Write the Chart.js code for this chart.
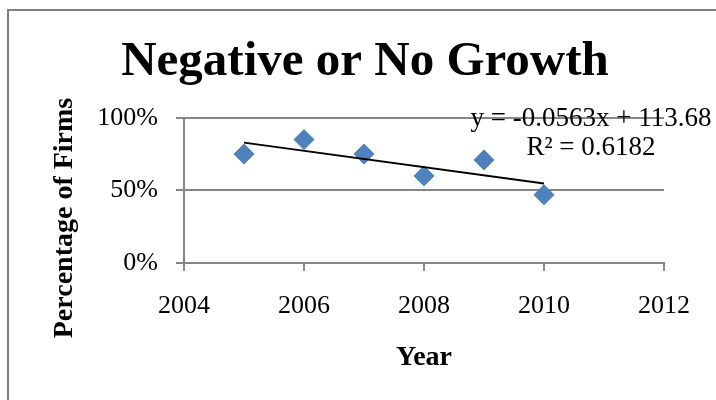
<!DOCTYPE html>
<html>
<head>
<meta charset="utf-8">
<script src="https://cdn.jsdelivr.net/npm/chart.js@4/dist/chart.umd.min.js"></script>
<style>
  html, body { margin: 0; padding: 0; background: #fff; }
  #wrap { width: 716px; height: 400px; }
</style>
</head>
<body>
<div id="wrap"><canvas id="c" width="716" height="400"></canvas></div>
<script>
// Share of firms reporting negative or no growth, by year
const years = [2005, 2006, 2007, 2008, 2009, 2010];
const shareOfFirms = [0.75, 0.85, 0.75, 0.60, 0.71, 0.47];
const xTickValues = [2004, 2006, 2008, 2010, 2012];
const yTickValues = [0, 0.5, 1];

const SERIF = '"Liberation Serif", "DejaVu Serif", serif';
const AXIS_GREY = '#868686';

// Ordinary least-squares line through the points
function linearFit(xs, ys) {
  const n = xs.length;
  const mx = xs.reduce((a, b) => a + b, 0) / n;
  const my = ys.reduce((a, b) => a + b, 0) / n;
  let sxy = 0, sxx = 0, syy = 0;
  for (let i = 0; i < n; i++) {
    sxy += (xs[i] - mx) * (ys[i] - my);
    sxx += (xs[i] - mx) ** 2;
    syy += (ys[i] - my) ** 2;
  }
  const slope = sxy / sxx;
  const intercept = my - slope * mx;
  const r2 = (sxy * sxy) / (sxx * syy);
  return { slope, intercept, r2 };
}

const fit = linearFit(years, shareOfFirms);
const xFirst = years[0], xLast = years[years.length - 1];
const trendPoints = [
  { x: xFirst, y: fit.intercept + fit.slope * xFirst },
  { x: xLast,  y: fit.intercept + fit.slope * xLast }
];
const sign = fit.intercept >= 0 ? '+' : '-';
const equationText = `y = ${fit.slope.toFixed(4)}x ${sign} ${Math.abs(fit.intercept).toFixed(2)}`;
const r2Text = `R\u00B2 = ${fit.r2.toFixed(4)}`;

// Outer frame of the chart object
const framePlugin = {
  id: 'frame',
  beforeDraw(chart) {
    const ctx = chart.ctx;
    ctx.save();
    ctx.fillStyle = '#fff';
    ctx.fillRect(0, 0, chart.width, chart.height);
    ctx.strokeStyle = '#808080';
    ctx.lineWidth = 2;
    ctx.beginPath();
    ctx.moveTo(8, chart.height);
    ctx.lineTo(8, 10);
    ctx.lineTo(chart.width, 10);
    ctx.stroke();
    ctx.restore();
  }
};

// Vertical axis caption and trendline equation
const labelsPlugin = {
  id: 'labels',
  afterDraw(chart) {
    const ctx = chart.ctx;
    const area = chart.chartArea;
    ctx.save();
    ctx.fillStyle = '#000';
    ctx.textAlign = 'center';
    ctx.textBaseline = 'middle';

    ctx.save();
    ctx.translate(65, 218);
    ctx.rotate(-Math.PI / 2);
    ctx.font = `bold 28px ${SERIF}`;
    ctx.fillText('Percentage of Firms', 0, 0);
    ctx.restore();

    ctx.font = `27px ${SERIF}`;
    ctx.fillText(equationText, area.right - 73, area.top + 1);
    ctx.fillText(r2Text, area.right - 73, area.top + 30);
    ctx.restore();
  }
};

new Chart(document.getElementById('c'), {
  type: 'scatter',
  data: {
    datasets: [
      {
        type: 'line',
        label: 'Linear trend',
        data: trendPoints,
        borderColor: '#000',
        borderWidth: 2,
        pointRadius: 0,
        fill: false,
        order: 0
      },
      {
        label: 'Negative or No Growth',
        data: years.map((y, i) => ({ x: y, y: shareOfFirms[i] })),
        pointStyle: 'rectRot',
        pointRadius: 10,
        backgroundColor: '#4F81BD',
        borderColor: '#4F81BD',
        borderWidth: 1,
        order: 1
      }
    ]
  },
  options: {
    responsive: false,
    animation: false,
    devicePixelRatio: 1,
    layout: { padding: { left: 66, right: 52, top: 0, bottom: 0 } },
    plugins: {
      legend: { display: false },
      tooltip: { enabled: false },
      title: {
        display: true,
        text: 'Negative or No Growth',
        color: '#000',
        font: { family: SERIF, size: 49, weight: 'bold', lineHeight: 1.2 },
        padding: { top: 33, bottom: 26 }
      }
    },
    scales: {
      x: {
        type: 'linear',
        min: 2004,
        max: 2012,
        afterBuildTicks(scale) { scale.ticks = xTickValues.map(v => ({ value: v })); },
        afterFit(scale) { scale.height = 137; },
        ticks: {
          color: '#000',
          font: { family: SERIF, size: 26 },
          padding: 20,
          maxRotation: 0,
          callback: v => String(v)
        },
        grid: { drawOnChartArea: false, drawTicks: true, tickLength: 8, color: AXIS_GREY, lineWidth: 2 },
        border: { display: true, color: AXIS_GREY, width: 2 },
        title: {
          display: true,
          text: 'Year',
          color: '#000',
          font: { family: SERIF, size: 28, weight: 'bold' },
          padding: { top: 0, bottom: 25 }
        }
      },
      y: {
        min: 0,
        max: 1,
        afterBuildTicks(scale) { scale.ticks = yTickValues.map(v => ({ value: v })); },
        afterFit(scale) { scale.width = 118; },
        ticks: {
          color: '#000',
          font: { family: SERIF, size: 26 },
          padding: 18,
          callback: v => Math.round(v * 100) + '%'
        },
        grid: { color: AXIS_GREY, lineWidth: 2, tickLength: 8 },
        border: { display: true, color: AXIS_GREY, width: 2 }
      }
    }
  },
  plugins: [framePlugin, labelsPlugin]
});
</script>
</body>
</html>
